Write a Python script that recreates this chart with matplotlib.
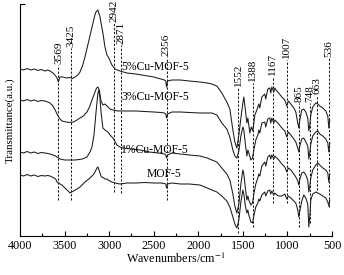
import matplotlib
matplotlib.use("Agg")
import matplotlib.pyplot as plt
from matplotlib.ticker import MultipleLocator

plt.rcParams['font.family'] = ['Liberation Serif', 'DejaVu Serif']
plt.rcParams['mathtext.fontset'] = 'stix'

# FTIR spectra, (wavenumber cm-1, transmittance a.u.)
cu5 = [(4000, 167), (3960, 166), (3920, 167.5), (3880, 166), (3840, 167), (3800, 165.5), (3760, 166.5),
       (3720, 165), (3690, 166), (3664, 165), (3630, 163), (3600, 160), (3585, 158), (3569, 154), (3552, 159),
       (3518, 159), (3480, 158), (3440, 158.5), (3410, 157.5), (3383, 159), (3350, 161), (3327, 164),
       (3300, 170), (3271, 179), (3250, 187), (3226, 196), (3200, 206), (3181, 213), (3160, 221), (3148, 224),
       (3126, 226), (3103, 219), (3085, 210), (3070, 203), (3047, 189), (3025, 181), (3003, 178), (2969, 171),
       (2935, 167), (2879, 165), (2800, 163), (2700, 162), (2600, 160.5), (2500, 159), (2420, 157), (2380, 156),
       (2365, 155), (2356, 149), (2345, 155), (2296, 156), (2200, 156), (2100, 155), (1982, 154), (1900, 153),
       (1848, 152), (1792, 150), (1736, 143), (1680, 134), (1646, 127), (1612, 106), (1590, 94), (1567, 88),
       (1545, 101), (1522, 118), (1500, 133), (1489, 139), (1472, 126), (1455, 113), (1444, 118), (1433, 111),
       (1422, 103), (1405, 109), (1388, 105), (1366, 121), (1343, 126), (1321, 132), (1310, 128), (1287, 139),
       (1254, 142), (1243, 137), (1220, 147), (1198, 148), (1187, 143), (1175, 149), (1153, 144), (1142, 148),
       (1119, 145), (1097, 143), (1063, 139), (1029, 136), (1007, 130), (990, 135), (962, 132), (928, 128),
       (906, 124), (884, 113), (872, 108), (861, 116), (839, 126), (816, 127), (794, 124), (772, 118),
       (760, 105), (749, 111), (738, 121), (716, 129), (682, 133), (659, 132), (637, 130), (603, 128),
       (570, 125), (547, 120), (536, 108), (525, 116)]

cu3 = [(4000, 136), (3960, 135), (3920, 136.5), (3880, 135), (3840, 136), (3800, 134.5), (3760, 135.5),
       (3720, 135), (3690, 134), (3664, 133), (3630, 130), (3600, 125), (3585, 122), (3560, 118), (3530, 115),
       (3480, 114), (3440, 113.5), (3400, 114), (3361, 116), (3327, 118), (3290, 120), (3249, 124), (3220, 129),
       (3193, 136), (3175, 140), (3159, 144), (3140, 148), (3126, 149), (3110, 146), (3092, 135), (3070, 131),
       (3047, 132), (3025, 130), (2991, 127), (2957, 126), (2900, 125), (2800, 125), (2700, 125), (2600, 124.5),
       (2500, 124), (2420, 123.5), (2380, 123), (2365, 122), (2356, 118), (2345, 122), (2296, 124), (2200, 124),
       (2100, 123.5), (1982, 123), (1900, 123), (1848, 123), (1792, 121), (1736, 113), (1680, 107), (1646, 99),
       (1612, 86), (1590, 80), (1567, 78), (1545, 85), (1522, 100), (1500, 109), (1489, 106), (1472, 92),
       (1455, 80), (1444, 86), (1433, 83), (1410, 76), (1392, 78), (1377, 86), (1355, 96), (1332, 101),
       (1321, 106), (1310, 103), (1287, 113), (1254, 114), (1243, 109), (1220, 117), (1198, 118), (1187, 113),
       (1175, 118), (1153, 113), (1142, 116), (1119, 114), (1097, 112), (1063, 108), (1029, 105), (1007, 99),
       (990, 104), (962, 101), (928, 97), (906, 94), (884, 88), (872, 84), (861, 90), (839, 97), (816, 98),
       (794, 94), (772, 90), (760, 77), (749, 84), (738, 92), (716, 100), (682, 104), (659, 105), (637, 102),
       (603, 100), (570, 97), (547, 93), (536, 84), (525, 93)]

cu1 = [(4000, 84), (3960, 83), (3920, 84.5), (3880, 83), (3840, 84), (3800, 82.5), (3760, 83.5), (3720, 83),
       (3690, 82.5), (3664, 82), (3630, 81), (3600, 80), (3585, 79), (3552, 77), (3500, 76), (3440, 76),
       (3383, 76), (3340, 76.5), (3300, 77), (3249, 79), (3215, 84), (3193, 89), (3170, 101), (3148, 123),
       (3126, 143), (3115, 146), (3103, 138), (3092, 125), (3081, 116), (3070, 108), (3047, 106), (3014, 104),
       (2980, 100), (2957, 98), (2913, 91), (2879, 89), (2845, 88), (2750, 87), (2650, 86), (2550, 84),
       (2450, 83), (2380, 82), (2365, 81), (2356, 78), (2345, 81), (2296, 83), (2200, 82), (2100, 81),
       (1982, 80), (1900, 78), (1848, 76), (1792, 74), (1736, 68), (1680, 62), (1646, 56), (1612, 42),
       (1590, 30), (1567, 23), (1545, 32), (1522, 52), (1500, 66), (1489, 62), (1472, 48), (1455, 36),
       (1444, 40), (1433, 36), (1410, 31), (1392, 33), (1377, 42), (1355, 52), (1332, 58), (1321, 62),
       (1310, 60), (1287, 70), (1254, 74), (1243, 70), (1220, 79), (1198, 81), (1187, 77), (1175, 81),
       (1153, 77), (1142, 80), (1119, 78), (1097, 76), (1063, 72), (1029, 69), (1007, 64), (990, 68),
       (962, 66), (928, 62), (906, 59), (884, 55), (872, 51), (861, 57), (839, 63), (816, 64), (794, 61),
       (772, 56), (760, 44), (749, 50), (738, 58), (716, 66), (682, 71), (659, 73), (637, 71), (603, 68),
       (570, 66), (547, 63), (536, 54), (525, 62)]

mof5 = [(4000, 61), (3960, 60), (3920, 61.5), (3880, 60), (3840, 61), (3800, 59.5), (3760, 60.5), (3720, 60),
        (3690, 60.5), (3664, 60), (3630, 58.5), (3600, 57), (3585, 54), (3560, 52.5), (3530, 51), (3496, 48),
        (3460, 45), (3440, 43), (3400, 45), (3360, 47), (3327, 49), (3271, 54), (3215, 58), (3170, 62),
        (3159, 64), (3137, 68), (3126, 69), (3110, 65), (3092, 60), (3081, 59), (3060, 58), (3047, 57),
        (3020, 57), (3014, 56), (2970, 54), (2935, 53), (2879, 52), (2800, 53), (2700, 53), (2600, 53.5),
        (2500, 53), (2420, 53), (2380, 52.5), (2365, 52), (2356, 48), (2345, 52), (2296, 53), (2200, 52),
        (2100, 52), (1982, 51), (1900, 48), (1848, 46), (1792, 44), (1736, 40), (1680, 35), (1646, 29),
        (1612, 19), (1590, 12), (1567, 8), (1545, 16), (1522, 34), (1500, 46), (1489, 42), (1472, 30),
        (1455, 23), (1444, 26), (1433, 21), (1410, 14), (1392, 13), (1377, 20), (1355, 29), (1332, 33),
        (1321, 37), (1310, 35), (1287, 41), (1254, 44), (1243, 40), (1220, 45), (1198, 46), (1187, 42),
        (1175, 45), (1153, 41), (1142, 43), (1119, 41), (1097, 40), (1063, 40), (1029, 42), (1007, 37),
        (990, 40), (962, 38), (928, 35), (906, 33), (884, 26), (872, 19), (861, 25), (839, 35), (816, 41),
        (794, 38), (772, 32), (760, 9), (749, 20), (738, 36), (716, 42), (682, 44), (659, 43), (637, 42),
        (603, 40), (570, 38), (547, 34), (536, 30), (525, 36)]

spectra = [cu5, cu3, cu1, mof5]
names = ["5%Cu-MOF-5", "3%Cu-MOF-5", "1%Cu-MOF-5", "MOF-5"]
name_x = [2868, 2868, 2868, 2576]
name_y = [169, 139, 86, 62]

# marked bands: label, top of dashed line, bottom of dashed line
peaks = [3569, 3425, 2942, 2871, 2356, 1552, 1388, 1167, 1007, 865, 748, 663, 536]
peak_top = [171, 188, 213, 191, 179, 148, 153, 159, 176, 133, 133, 141, 178]
peak_bottom = [36, 36, 44, 43, 36, 3, 9, 33, 33, 9, 13, 46, 29]

fig = plt.figure(figsize=(3.44, 2.75), dpi=100)
ax = fig.add_axes([20 / 344, 39 / 275, 312 / 344, 232 / 275])

for sp in spectra:
    wn, tr = zip(*sp)
    ax.plot(wn, tr, color='#1a1a1a', lw=0.75)

for p, top, bot in zip(peaks, peak_top, peak_bottom):
    ax.plot([p, p], [bot, top], color='#1a1a1a', lw=0.75, ls=(0, (2.2, 1.6)))
    ax.text(p, top + 1, str(p), rotation=90, ha='center', va='bottom', fontsize=8.1, clip_on=False)

for n, x, y in zip(names, name_x, name_y):
    ax.text(x, y, n, ha='left', va='center', fontsize=8.4)

ax.set_xlim(4000, 500)
ax.set_ylim(0, 232)
ax.spines['top'].set_visible(False)
ax.spines['right'].set_visible(False)
ax.xaxis.set_major_locator(MultipleLocator(500))
ax.xaxis.set_minor_locator(MultipleLocator(250))
ax.set_yticks([232])
ax.set_yticklabels([])
ax.tick_params(which='major', direction='in', length=3.5, width=0.8, labelsize=8.7, pad=3)
ax.tick_params(which='minor', direction='in', length=2.2, width=0.8)
ax.set_xlabel(r'Wavenumbers/cm$^{-1}$', fontsize=8.7, labelpad=0)
ax.set_ylabel('Transmittance(a.u.)', fontsize=7.8, labelpad=1)

fig.savefig('out.png', dpi=100)
